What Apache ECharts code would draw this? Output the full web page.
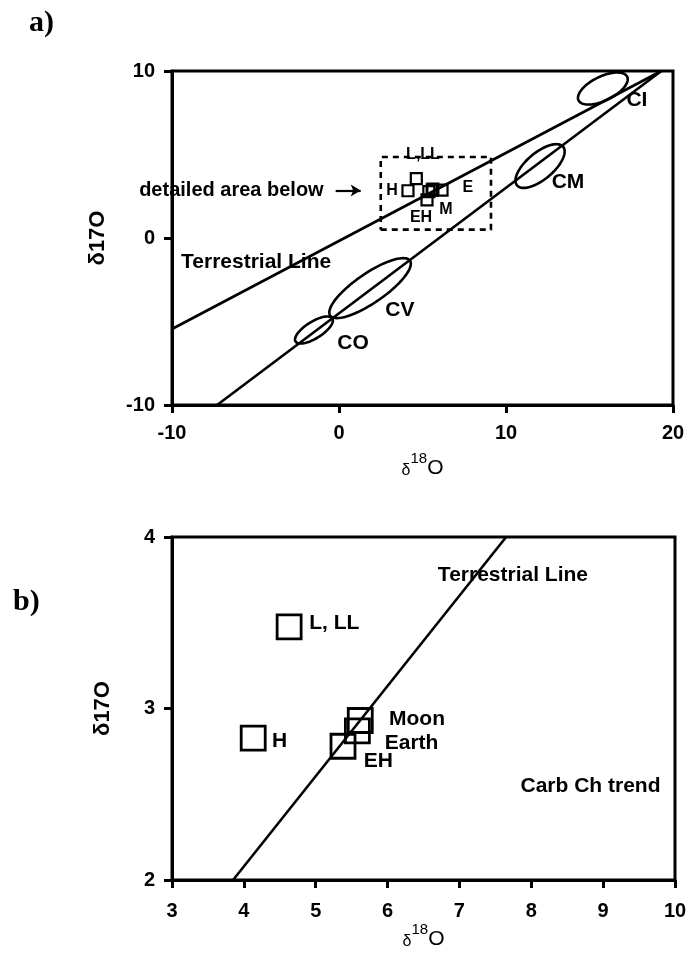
<!DOCTYPE html>
<html>
<head>
<meta charset="utf-8">
<script src="https://cdn.jsdelivr.net/npm/echarts@6/dist/echarts.min.js"></script>
<style>
html,body{margin:0;padding:0;background:#fff;}
#chart{width:692px;height:956px;}
</style>
</head>
<body>
<div id="chart"></div>
<script>
// ---------- Panel a data ----------
const aTicksX = [-10, 0, 10, 20];
const aTicksY = [-10, 0, 10];
const terrestrialA = [[-10, -5.45], [19.3, 10]];
const carbTrendA = [[-7.3, -10], [19.3, 10]];
const detailBoxX = [2.5, 9.1, 9.1, 2.5, 2.5];
const detailBoxY = [0.5, 0.5, 4.85, 4.85, 0.5];
const arrowX = [-0.2, 1.3];
const arrowY = [2.85, 2.85];

const ellipseNames = ['CI', 'CM', 'CV', 'CO'];
const ellipseCX = [15.8, 12.04, 1.86, -1.5];
const ellipseCY = [8.95, 4.31, -3.0, -5.51];
const ellipseA = [1.62, 1.8, 2.9, 1.3];
const ellipseB = [0.72, 0.8, 0.88, 0.5];
const ellipseAngle = [26, 40, 34.5, 32];
const ellipseLabelX = [17.84, 13.71, 3.65, 0.84];
const ellipseLabelY = [8.26, 3.35, -4.31, -6.29];

const aSquareNames = ['L,LL', 'H', 'Moon', 'Earth', 'EH', 'E', 'M'];
const aSquareX = [4.63, 4.13, 5.62, 5.58, 5.38, 6.17, 5.27];
const aSquareY = [3.55, 2.83, 2.93, 2.87, 2.78, 2.87, 2.28];
const aSmallLabels = ['L,LL', 'H', 'E', 'EH', 'M'];
const aSmallLabelX = [5.03, 3.17, 7.72, 4.91, 6.4];
const aSmallLabelY = [4.97, 2.81, 3.0, 1.2, 1.68];

// ---------- Panel b data ----------
const bTicksX = [3, 4, 5, 6, 7, 8, 9, 10];
const bTicksY = [2, 3, 4];
const terrestrialB = [[3.85, 2], [7.65, 4]];
const bSquareNames = ['L, LL', 'H', 'Moon', 'Earth', 'EH'];
const bSquareX = [4.63, 4.13, 5.62, 5.58, 5.38];
const bSquareY = [3.476, 2.827, 2.93, 2.87, 2.78];
const bLabelX = [4.91, 4.39, 6.02, 5.96, 5.67];
const bLabelY = [3.50, 2.81, 2.94, 2.80, 2.69];
const bTextNames = ['Terrestrial Line', 'Carb Ch trend'];
const bTextX = [6.70, 7.85];
const bTextY = [3.78, 2.545];

const FONT = '"Liberation Sans", Arial, sans-serif';
const chart = echarts.init(document.getElementById('chart'), null, {renderer: 'canvas'});

function axisCommon(extra) {
  return Object.assign({
    type: 'value',
    axisLine: {show: true, onZero: false, lineStyle: {color: '#000', width: 3}},
    axisTick: {show: true, length: 8, lineStyle: {color: '#000', width: 3}},
    splitLine: {show: false}
  }, extra);
}
function tickLabel(margin) {
  return {color: '#000', fontFamily: FONT, fontWeight: 'bold', fontSize: 20, margin: margin};
}

const xTitleRich = {
  d: {fontFamily: FONT, fontSize: 16, color: '#000', verticalAlign: 'bottom', padding: [7, 0, 0, 0]},
  s: {fontFamily: FONT, fontSize: 15, color: '#000', verticalAlign: 'top'},
  o: {fontFamily: FONT, fontSize: 21, color: '#000', verticalAlign: 'bottom', padding: [7, 0, 0, 0]}
};

function textPoints(names, xs, ys) {
  return names.map((n, i) => ({name: n, value: [xs[i], ys[i]]}));
}
function textLabel(pos, size, dist) {
  return {show: true, position: pos, distance: dist || 0, formatter: '{b}', color: '#000', opacity: 1,
    fontFamily: FONT, fontWeight: 'bold', fontSize: size, textBorderWidth: 0};
}

const ellipseData = ellipseNames.map((n, i) => ({
  name: n,
  value: [ellipseCX[i], ellipseCY[i], ellipseA[i], ellipseB[i], ellipseAngle[i]]
}));

const lineStyleBlack = {color: '#000', width: 2.6};
const noItem = {opacity: 1, color: '#000'};

const option = {
  animation: false,
  backgroundColor: '#fff',
  grid: [
    {left: 172, top: 71, width: 501, height: 334, show: true, borderColor: '#000', borderWidth: 3, backgroundColor: 'transparent'},
    {left: 172, top: 537, width: 503, height: 343, show: true, borderColor: '#000', borderWidth: 3, backgroundColor: 'transparent'}
  ],
  xAxis: [
    axisCommon({gridIndex: 0, min: aTicksX[0], max: aTicksX[aTicksX.length - 1], interval: 10,
      axisLabel: tickLabel(18),
      name: '{d|δ}{s|18}{o|O}', nameLocation: 'middle', nameGap: 46,
      nameTextStyle: {rich: xTitleRich}}),
    axisCommon({gridIndex: 1, min: bTicksX[0], max: bTicksX[bTicksX.length - 1], interval: 1,
      axisLabel: tickLabel(21),
      name: '{d|δ}{s|18}{o|O}', nameLocation: 'middle', nameGap: 31,
      nameTextStyle: {rich: xTitleRich}})
  ],
  yAxis: [
    axisCommon({gridIndex: 0, min: aTicksY[0], max: aTicksY[aTicksY.length - 1], interval: 10,
      axisLabel: tickLabel(17),
      name: 'δ17O', nameLocation: 'middle', nameRotate: 90, nameGap: 63,
      nameTextStyle: {color: '#000', fontFamily: FONT, fontWeight: 'bold', fontSize: 22}}),
    axisCommon({gridIndex: 1, min: bTicksY[0], max: bTicksY[bTicksY.length - 1], interval: 1,
      axisLabel: tickLabel(17),
      name: 'δ17O', nameLocation: 'middle', nameRotate: 90, nameGap: 58,
      nameTextStyle: {color: '#000', fontFamily: FONT, fontWeight: 'bold', fontSize: 22}})
  ],
  graphic: [
    {type: 'text', left: 29, top: 8, style: {text: 'a)', font: 'bold 30px "Liberation Serif", "Times New Roman", serif', fill: '#000'}},
    {type: 'text', left: 13, top: 587, style: {text: 'b)', font: 'bold 30px "Liberation Serif", "Times New Roman", serif', fill: '#000'}}
  ],
  series: [
    // Panel a lines
    {type: 'line', xAxisIndex: 0, yAxisIndex: 0, data: terrestrialA, symbol: 'none', lineStyle: lineStyleBlack, silent: true},
    {type: 'line', xAxisIndex: 0, yAxisIndex: 0, data: carbTrendA, symbol: 'none', lineStyle: lineStyleBlack, silent: true},
    {type: 'line', xAxisIndex: 0, yAxisIndex: 0, data: detailBoxX.map((x, i) => [x, detailBoxY[i]]), symbol: 'none',
      lineStyle: {color: '#000', width: 2.6, type: [6, 5]}, silent: true},
    // ellipses
    {type: 'custom', xAxisIndex: 0, yAxisIndex: 0, data: ellipseData, silent: true, clip: false,
      renderItem: function (params, api) {
        const cx = api.value(0), cy = api.value(1), a = api.value(2), b = api.value(3);
        const ang = api.value(4) * Math.PI / 180;
        const pts = [];
        for (let i = 0; i < 90; i++) {
          const t = i / 90 * 2 * Math.PI;
          const x = cx + a * Math.cos(t) * Math.cos(ang) - b * Math.sin(t) * Math.sin(ang);
          const y = cy + a * Math.cos(t) * Math.sin(ang) + b * Math.sin(t) * Math.cos(ang);
          pts.push(api.coord([x, y]));
        }
        return {type: 'polygon', shape: {points: pts}, style: {fill: 'none', stroke: '#000', lineWidth: 2.6}};
      }},
    // squares panel a
    {type: 'scatter', xAxisIndex: 0, yAxisIndex: 0, data: aSquareNames.map((n, i) => ({name: n, value: [aSquareX[i], aSquareY[i]]})),
      symbol: 'rect', symbolSize: 11, itemStyle: {color: 'rgba(255,255,255,0)', borderColor: '#000', borderWidth: 2.2, opacity: 1}, silent: true},
    // ellipse labels
    {type: 'scatter', xAxisIndex: 0, yAxisIndex: 0, data: textPoints(ellipseNames, ellipseLabelX, ellipseLabelY),
      symbolSize: 0, silent: true, clip: false, itemStyle: noItem, label: textLabel('inside', 21)},
    // small labels panel a
    {type: 'scatter', xAxisIndex: 0, yAxisIndex: 0, data: textPoints(aSmallLabels, aSmallLabelX, aSmallLabelY),
      symbolSize: 0, silent: true, clip: false, itemStyle: noItem, label: textLabel('inside', 16)},
    // Terrestrial Line (a)
    {type: 'scatter', xAxisIndex: 0, yAxisIndex: 0, data: [{name: 'Terrestrial Line', value: [-9.46, -1.44]}],
      symbolSize: 0, silent: true, clip: false, itemStyle: noItem, label: textLabel('right', 21)},
    // detailed area text + arrow
    {type: 'scatter', xAxisIndex: 0, yAxisIndex: 0, data: [{name: 'detailed area below', value: [arrowX[0], arrowY[0]]}],
      symbolSize: 0, silent: true, clip: false, itemStyle: noItem, label: textLabel('left', 20, 12),
      markLine: {silent: true, symbol: ['none', 'arrow'], symbolSize: [9, 10], animation: false,
        label: {show: false},
        lineStyle: {color: '#000', width: 2.2, type: 'solid'},
        data: [[{coord: [arrowX[0], arrowY[0]]}, {coord: [arrowX[1], arrowY[1]]}]]}},

    // Panel b
    {type: 'line', xAxisIndex: 1, yAxisIndex: 1, data: terrestrialB, symbol: 'none', lineStyle: lineStyleBlack, silent: true},
    {type: 'scatter', xAxisIndex: 1, yAxisIndex: 1, data: bSquareNames.map((n, i) => ({name: n, value: [bSquareX[i], bSquareY[i]]})),
      symbol: 'rect', symbolSize: 24, itemStyle: {color: 'rgba(255,255,255,0)', borderColor: '#000', borderWidth: 2.8, opacity: 1}, silent: true},
    {type: 'scatter', xAxisIndex: 1, yAxisIndex: 1, data: textPoints(bSquareNames, bLabelX, bLabelY),
      symbolSize: 0, silent: true, clip: false, itemStyle: noItem, label: textLabel('right', 21)},
    {type: 'scatter', xAxisIndex: 1, yAxisIndex: 1, data: textPoints(bTextNames, bTextX, bTextY),
      symbolSize: 0, silent: true, clip: false, itemStyle: noItem, label: textLabel('right', 21)}
  ]
};
chart.setOption(option);
</script>
</body>
</html>
